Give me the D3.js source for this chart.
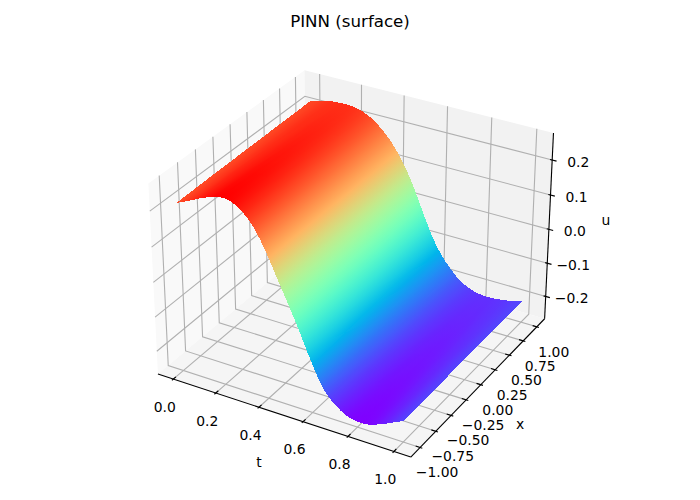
<!DOCTYPE html>
<html>
<head>
<meta charset="utf-8">
<style>
html, body { margin: 0; padding: 0; background: #fff; }
text { font-family: "DejaVu Sans", sans-serif; font-size: 13.9px; fill: #000; }
</style>
<script src="https://cdn.jsdelivr.net/npm/d3@7"></script>
</head>
<body>
<div id="chart"></div>
<script>
var tValues = [0,.025,.05,.075,.1,.125,.15,.175,.2,.225,.25,.275,.3,.325,.35,.375,.4,.425,.45,.475,.5,.525,.55,.575,.6,.625,.65,.675,.7,.725,.75,.775,.8,.825,.85,.875,.9,.925,.95,.975,1];
var xValues = [-1,-.5,0,.5,1];
var uXm100 = [.213,.22,.227,.234,.242,.249,.255,.261,.264,.264,.261,.253,.242,.226,.206,.181,.152,.118,.084,.05,.017,-.017,-.054,-.092,-.127,-.162,-.19,-.21,-.224,-.236,-.245,-.25,-.252,-.252,-.25,-.245,-.238,-.231,-.223,-.215,-.207];
var uXm050 = [.215,.221,.227,.233,.24,.245,.25,.255,.257,.256,.252,.245,.234,.219,.2,.177,.151,.119,.087,.054,.021,-.015,-.052,-.089,-.123,-.156,-.182,-.201,-.216,-.227,-.236,-.242,-.244,-.245,-.243,-.239,-.233,-.228,-.221,-.214,-.207];
var uX000 = [.216,.221,.226,.232,.237,.241,.245,.248,.249,.247,.243,.236,.225,.211,.194,.173,.149,.12,.09,.057,.024,-.013,-.05,-.086,-.119,-.149,-.173,-.191,-.207,-.218,-.227,-.233,-.236,-.237,-.236,-.233,-.228,-.224,-.218,-.212,-.206];
var uX050 = [.217,.221,.226,.231,.235,.237,.24,.241,.241,.239,.234,.227,.217,.204,.188,.169,.147,.121,.093,.061,.027,-.011,-.048,-.083,-.115,-.142,-.164,-.182,-.198,-.209,-.218,-.224,-.228,-.229,-.229,-.227,-.223,-.22,-.216,-.211,-.206];
var uX100 = [.218,.221,.225,.229,.232,.233,.234,.234,.233,.23,.225,.218,.208,.196,.181,.165,.145,.122,.095,.064,.03,-.008,-.045,-.08,-.11,-.135,-.155,-.172,-.189,-.2,-.209,-.215,-.219,-.221,-.221,-.22,-.218,-.216,-.213,-.209,-.205];
var uRows = [uXm100, uXm050, uX000, uX050, uX100];

var tTicks = [0,.2,.4,.6,.8,1];
var xTicks = [-1,-.75,-.5,-.25,0,.25,.5,.75,1];
var uTicks = [-.2,-.1,0,.1,.2];
var tDomain = [-.073,1.073];
var xDomain = [-1.146,1.146];
var uDomain = [-.268,.276];

var width = 700, height = 500;
var svg = d3.select("#chart").append("svg").attr("width", width).attr("height", height);
var defs = svg.append("defs");

// mplot3d default view, elev 30 azim -60 dist 10
var halfXY = .62, halfZ = .465, dist = 10, pxScale = 2335, cx = 355, cy = 254;
var tScale = d3.scaleLinear().domain(tDomain).range([-halfXY, halfXY]);
var xScale = d3.scaleLinear().domain(xDomain).range([-halfXY, halfXY]);
var uScale = d3.scaleLinear().domain(uDomain).range([-halfZ, halfZ]);
var el = 30 * Math.PI / 180, az = -60 * Math.PI / 180;
var n = [Math.cos(el) * Math.cos(az), Math.cos(el) * Math.sin(az), Math.sin(el)];
var ux = [-n[1] / Math.hypot(n[0], n[1]), n[0] / Math.hypot(n[0], n[1]), 0];
var vy = [n[1] * ux[2] - n[2] * ux[1], n[2] * ux[0] - n[0] * ux[2], n[0] * ux[1] - n[1] * ux[0]];
var dot = function(a, b){ return a[0] * b[0] + a[1] * b[1] + a[2] * b[2]; };

function depth(t, x, u){
  return dist - dot(n, [tScale(t), xScale(x), uScale(u)]);
}
function project(t, x, u){
  var p = [tScale(t), xScale(x), uScale(u)];
  var d = dist - dot(n, p);
  return [cx + pxScale * dot(ux, p) / d, cy - pxScale * dot(vy, p) / d];
}

// matplotlib rainbow colormap
function rainbow(v){
  var r = Math.min(1, Math.abs(2 * v - .5)), g = Math.sin(Math.PI * v), b = Math.cos(Math.PI * v / 2);
  return d3.rgb(r * 255, g * 255, Math.max(0, b) * 255).formatHex();
}

var tMin = tDomain[0], tMax = tDomain[1], xMin = xDomain[0], xMax = xDomain[1], uMin = uDomain[0], uMax = uDomain[1];
var line = d3.line();

// panes
var panes = [
  {fill: "#f9f9f9", pts: [[tMin,xMin,uMin],[tMin,xMax,uMin],[tMin,xMax,uMax],[tMin,xMin,uMax]]},
  {fill: "#f2f2f2", pts: [[tMin,xMax,uMin],[tMax,xMax,uMin],[tMax,xMax,uMax],[tMin,xMax,uMax]]},
  {fill: "#f5f5f5", pts: [[tMin,xMin,uMin],[tMax,xMin,uMin],[tMax,xMax,uMin],[tMin,xMax,uMin]]}
];
svg.append("g").selectAll("path").data(panes).join("path")
  .attr("d", function(d){ return line(d.pts.map(function(p){ return project(p[0], p[1], p[2]); })) + "Z"; })
  .attr("fill", function(d){ return d.fill; });

// grid
var gridPaths = [];
tTicks.forEach(function(v){ gridPaths.push([[v,xMin,uMin],[v,xMax,uMin],[v,xMax,uMax]]); });
xTicks.forEach(function(v){ gridPaths.push([[tMax,v,uMin],[tMin,v,uMin],[tMin,v,uMax]]); });
uTicks.forEach(function(v){ gridPaths.push([[tMin,xMin,v],[tMin,xMax,v],[tMax,xMax,v]]); });
svg.append("g").selectAll("path").data(gridPaths).join("path")
  .attr("d", function(d){ return line(d.map(function(p){ return project(p[0], p[1], p[2]); })); })
  .attr("fill", "none").attr("stroke", "#b0b0b0").attr("stroke-width", 1.11);

// axis lines
var axisLines = [
  [[tMin,xMin,uMin],[tMax,xMin,uMin]],
  [[tMax,xMin,uMin],[tMax,xMax,uMin]],
  [[tMax,xMax,uMin],[tMax,xMax,uMax]]
];
svg.append("g").selectAll("path").data(axisLines).join("path")
  .attr("d", function(d){ return line(d.map(function(p){ return project(p[0], p[1], p[2]); })); })
  .attr("fill", "none").attr("stroke", "#000").attr("stroke-width", 1.11);

// ticks
var dT = (tMax - tMin) / 12, dX = (xMax - xMin) / 12;
var tickLines = [];
tTicks.forEach(function(v){ tickLines.push([[v,xMin - .1 * dX,uMin],[v,xMin + .2 * dX,uMin]]); });
xTicks.forEach(function(v){ tickLines.push([[tMax + .1 * dT,v,uMin],[tMax - .2 * dT,v,uMin]]); });
uTicks.forEach(function(v){ tickLines.push([[tMax + .2 * dT,xMax,v],[tMax - .1 * dT,xMax,v]]); });
svg.append("g").selectAll("path").data(tickLines).join("path")
  .attr("d", function(d){ return line(d.map(function(p){ return project(p[0], p[1], p[2]); })); })
  .attr("fill", "none").attr("stroke", "#000").attr("stroke-width", 1.11);

// tick labels
var fmt = d3.format(".1f"), fmt2 = d3.format(".2f");
var labels = [];
tTicks.forEach(function(v){
  var p = project(v, xMin, uMin);
  labels.push({x: p[0] - 8.5, y: p[1] + 27.5, s: fmt(v)});
});
xTicks.forEach(function(v){
  var p = project(tMax, v, uMin);
  labels.push({x: p[0] + 17, y: p[1] + 25, s: fmt2(v)});
});
uTicks.forEach(function(v){
  var p = project(tMax, xMax, v);
  labels.push({x: p[0] + 26, y: p[1] + 2, s: fmt(v)});
});
svg.append("g").selectAll("text").data(labels).join("text")
  .attr("x", function(d){ return d.x; })
  .attr("y", function(d){ return d.y; })
  .attr("text-anchor", "middle")
  .attr("dominant-baseline", "central")
  .text(function(d){ return d.s.replace("-", "\u2212"); });

svg.append("text").attr("x", 259).attr("y", 462).attr("text-anchor", "middle").attr("dominant-baseline", "central").text("t");
svg.append("text").attr("x", 520).attr("y", 424).attr("text-anchor", "middle").attr("dominant-baseline", "central").text("x");
svg.append("text").attr("x", 606).attr("y", 220).attr("text-anchor", "middle").attr("dominant-baseline", "central").text("u");
svg.append("text").attr("x", 350).attr("y", 27).attr("text-anchor", "middle").style("font-size", "16.67px").text("PINN (surface)");

// surface triangles, painted back to front, each shaded with a gradient across its corners
var colorNorm = d3.scaleLinear().domain(d3.extent(d3.merge(uRows))).range([0, 1]);
var facets = [];
function addFacet(corners){
  var pts = corners.map(function(c){ return [tValues[c[0]], xValues[c[1]], uRows[c[1]][c[0]]]; });
  facets.push({
    pts: pts,
    d: d3.mean(pts, function(c){ return depth(c[0], c[1], c[2]); })
  });
}
for(var i = 0; i < xValues.length - 1; i++){
  for(var j = 0; j < tValues.length - 1; j++){
    addFacet([[j,i],[j + 1,i],[j + 1,i + 1]]);
    addFacet([[j,i],[j + 1,i + 1],[j,i + 1]]);
  }
}
facets.sort(function(a, b){ return b.d - a.d; });

function shade(d, k){
  var p = d.pts.map(function(c){ return project(c[0], c[1], c[2]); });
  var v = d.pts.map(function(c){ return colorNorm(c[2]); });
  var ax = p[1][0] - p[0][0], ay = p[1][1] - p[0][1], bx = p[2][0] - p[0][0], by = p[2][1] - p[0][1];
  var det = ax * by - ay * bx;
  var dv1 = v[1] - v[0], dv2 = v[2] - v[0];
  if(Math.abs(det) < .01) return rainbow(d3.mean(v));
  var gx = (dv1 * by - dv2 * ay) / det, gy = (dv2 * ax - dv1 * bx) / det;
  var g2 = gx * gx + gy * gy;
  if(g2 < 1e-12) return rainbow(d3.mean(v));
  var lo = d3.min(v), hi = d3.max(v), i0 = v.indexOf(lo);
  var span = (hi - lo) / g2;
  var id = "f" + k;
  var grad = defs.append("linearGradient").attr("id", id).attr("gradientUnits", "userSpaceOnUse")
    .attr("x1", p[i0][0]).attr("y1", p[i0][1])
    .attr("x2", p[i0][0] + gx * span).attr("y2", p[i0][1] + gy * span);
  [0, .5, 1].forEach(function(o){
    grad.append("stop").attr("offset", o).attr("stop-color", rainbow(lo + (hi - lo) * o));
  });
  return "url(#" + id + ")";
}

svg.append("g").selectAll("path").data(facets).join("path")
  .attr("d", function(d){ return line(d.pts.map(function(p){ return project(p[0], p[1], p[2]); })) + "Z"; })
  .attr("fill", function(d, k){ return shade(d, k); })
  .attr("shape-rendering", "crispEdges");
</script>
</body>
</html>
